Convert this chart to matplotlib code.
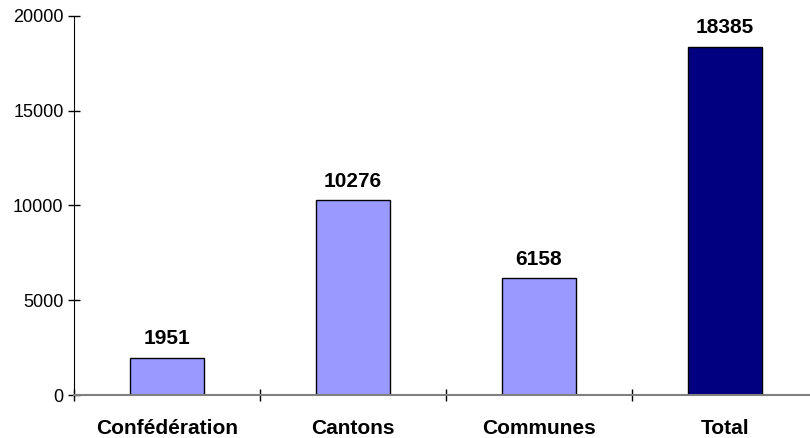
import matplotlib
matplotlib.use('Agg')
import matplotlib.pyplot as plt
import numpy as np

categories = ['Confédération', 'Cantons', 'Communes', 'Total']
values = [1951, 10276, 6158, 18385]
colors = ['#9999FF', '#9999FF', '#9999FF', '#000080']

plt.rcParams['font.family'] = ['Liberation Sans', 'DejaVu Sans']

fig = plt.figure(figsize=(8.1, 4.38), dpi=100)
ax = fig.add_axes([74 / 810, 43 / 438, 744 / 810, 379 / 438])

x = np.arange(len(categories))
bars = ax.bar(x, values, width=0.40, color=colors, edgecolor='black', linewidth=1.0)

# value labels above each bar
for rect, v in zip(bars, values):
    ax.annotate(str(v), (rect.get_x() + rect.get_width() / 2, rect.get_height()),
                xytext=(0, 7), textcoords='offset points',
                ha='center', va='bottom', fontsize=15, fontweight='bold')

ax.set_xlim(-0.5, 3.5)
ax.set_ylim(0, 20000)
ax.set_yticks([0, 5000, 10000, 15000, 20000])

# category labels centred, ticks between categories
ax.set_xticks(np.arange(-0.5, 4.0, 1.0))
ax.set_xticklabels([])
ax.set_xticks(x, minor=True)
ax.set_xticklabels(categories, minor=True, fontsize=15, fontweight='bold')
ax.tick_params(axis='x', which='minor', length=0, pad=17)
ax.tick_params(axis='x', which='major', direction='inout', length=9, width=1, color='black')
ax.tick_params(axis='y', direction='inout', length=9, width=1, labelsize=13, pad=3)

for s in ['top', 'right']:
    ax.spines[s].set_visible(False)
ax.spines['left'].set_color('black')
ax.spines['bottom'].set_color('#808080')
ax.spines['bottom'].set_linewidth(1.5)
ax.spines['bottom'].set_clip_on(True)

fig.savefig('out.png', dpi=100)
